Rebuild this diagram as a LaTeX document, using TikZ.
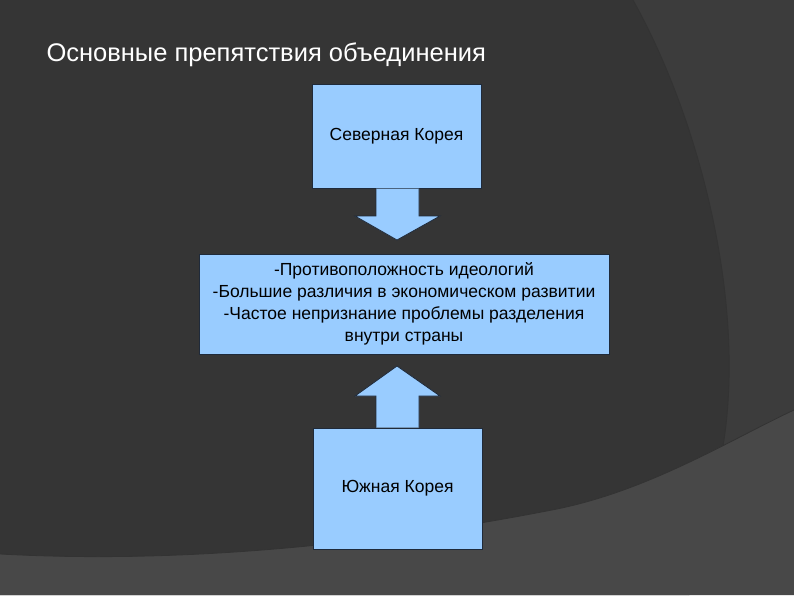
\documentclass[tikz,border=0pt]{standalone}
\usepackage{fontspec}
\setmainfont{Liberation Sans}
\definecolor{bgA}{HTML}{3C3C3C}
\definecolor{bgB}{HTML}{353535}
\definecolor{bgC}{HTML}{484848}
\definecolor{boxfill}{HTML}{99CCFF}
\definecolor{boxline}{HTML}{1F2A3A}
\tikzset{box/.style={draw=boxline,fill=boxfill,line width=1pt,align=center,font=\fontsize{17.5}{22}\selectfont,text=black,inner sep=0pt},
arr/.style={draw=boxline,fill=boxfill,line width=0.8pt,line join=miter}}
\begin{document}
\begin{tikzpicture}[x=1pt,y=-1pt]
\useasboundingbox (0,0) rectangle (794,595);
\fill[bgA] (0,0) rectangle (794,595);
\fill[bgB] (0,0) -- (633,0) .. controls (700,120) and (745,300) .. (724,440) .. controls (715,500) and (700,560) .. (689,595) -- (0,595) -- cycle;
\draw[black!80,line width=0.8pt] (633,0) .. controls (700,120) and (745,300) .. (724,440) .. controls (715,500) and (700,560) .. (689,595);
\fill[bgC] (0,554) .. controls (200,565) and (400,540) .. (557,509) .. controls (650,490) and (730,440) .. (794,410) -- (794,595) -- (0,595) -- cycle;
\draw[black!80,line width=0.8pt] (0,554) .. controls (200,565) and (400,540) .. (557,509) .. controls (650,490) and (730,440) .. (794,410);
\node[anchor=west,text=white,font=\fontsize{25.5}{30}\selectfont] (title) at (43,55) {Основные препятствия объединения};
\node[box,minimum width=169pt,minimum height=104pt] (north) at (396.5,136) {Северная Корея};
\node[box,minimum width=410pt,minimum height=100pt] (mid) at (404,304) {-Противоположность идеологий\\-Большие различия в экономическом развитии\\-Частое непризнание проблемы разделения\\внутри страны};
\node[box,minimum width=169pt,minimum height=121pt] (south) at (397.5,488.5) {Южная Корея};
\draw[arr] (north.south -| 376,0) -- (376,216) -- (355,216) -- (397,240) -- (440,216) -- (419,216) -- (north.south -| 419,0);
\draw[arr] (south.north -| 376,0) -- (376,396) -- (355,396) -- (397,366) -- (440,396) -- (419,396) -- (south.north -| 419,0);
\end{tikzpicture}
\end{document}
